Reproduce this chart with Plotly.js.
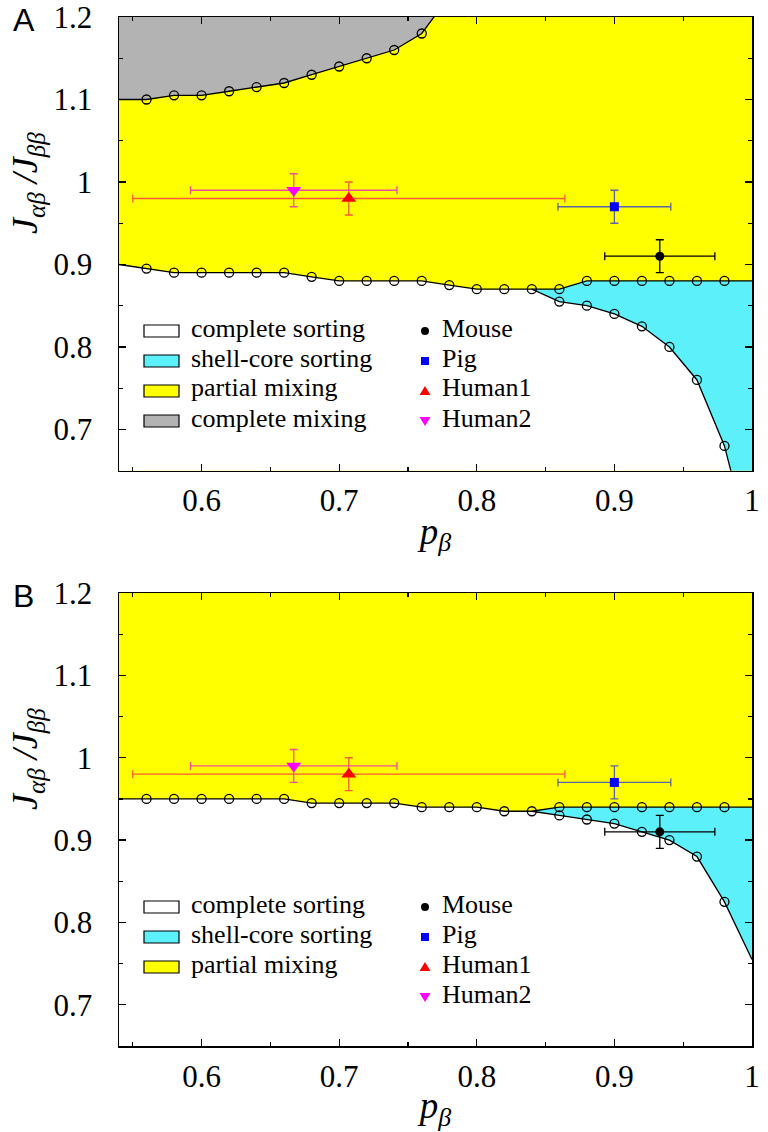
<!DOCTYPE html>
<html><head><meta charset="utf-8">
<script src="https://cdn.plot.ly/plotly-3.0.1.min.js"></script>
<style>html,body{margin:0;padding:0;background:#fff}#chart{width:768px;height:1132px}</style>
</head><body><div id="chart"></div>
<script>
// ================= DATA =================
const X_RANGE = [0.54, 1.0];
const Y_RANGE = [0.65, 1.2];
const pMain   = [0.56,0.58,0.60,0.62,0.64,0.66,0.68,0.70,0.72,0.74,0.76,0.78,0.80,0.82,0.84];
const pBranch = [0.86,0.88,0.90,0.92,0.94,0.96,0.98];
const pMixA   = [0.56,0.58,0.60,0.62,0.64,0.66,0.68,0.70,0.72,0.74,0.76];
// Panel A boundaries
const A_mainJ  = [0.895,0.89,0.89,0.89,0.89,0.89,0.885,0.88,0.88,0.88,0.88,0.875,0.87,0.87,0.87];
const A_upperJ = [0.87,0.88,0.88,0.88,0.88,0.88,0.88];
const A_lowerJ = [0.855,0.85,0.84,0.825,0.80,0.76,0.68];
const A_mixJ   = [1.10,1.105,1.105,1.11,1.115,1.12,1.13,1.14,1.15,1.16,1.18];
const A_mainStartJ = 0.90, A_upperEndJ = 0.88, A_lowerEndJ = 0.55;
const A_mixStartJ = 1.10, A_mixEndP = 0.78, A_mixEndJ = 1.225;
// Panel B boundaries
const B_mainJ  = [0.95,0.95,0.95,0.95,0.95,0.95,0.945,0.945,0.945,0.945,0.94,0.94,0.94,0.935,0.935];
const B_upperJ = [0.94,0.94,0.94,0.94,0.94,0.94,0.94];
const B_lowerJ = [0.93,0.925,0.92,0.91,0.90,0.88,0.825];
const B_mainStartJ = 0.95, B_upperEndJ = 0.94, B_lowerEndJ = 0.755;
// experimental samples
const sampleNames = ['Mouse','Pig','Human1','Human2'];
const sampleP     = [0.933,0.90,0.707,0.667];
const samplePErr  = [0.04,0.041,0.157,0.075];
const sampleJ     = [0.91,0.97,0.98,0.99];
const sampleJErr  = [0.02,0.02,0.02,0.02];
const regionNamesA = ['complete sorting','shell-core sorting','partial mixing','complete mixing'];
const regionNamesB = ['complete sorting','shell-core sorting','partial mixing'];
const xTickVals = [0.6,0.7,0.8,0.9,1.0];
const xTickText = ['0.6','0.7','0.8','0.9','1'];
const xMinorVals = [0.55,0.65,0.75,0.85,0.95];
const yTickVals = [0.7,0.8,0.9,1.0,1.1,1.2];
const yTickText = ['0.7','0.8','0.9','1','1.1','1.2'];
const yMinorVals = [0.65,0.75,0.85,0.95,1.05,1.15];

// ================= STYLE =================
const C_YELLOW = '#ffff00', C_CYAN = '#5cf1fa', C_GREY = '#b3b3b3', C_WHITE = '#ffffff';
const regionColors = [C_WHITE, C_CYAN, C_YELLOW, C_GREY];
const sampleColors = ['#000000','#0000ff','#ff0000','#ff00ff'];
const sampleBarColors = ['#000000','#5866a8','#ff5a3a','#ee4f98'];
const sampleSymbols = ['circle','square','triangle-up','triangle-down'];
const sampleSizes = [9,9,13,13];
const SERIF = 'Liberation Serif';
const SANS = 'Liberation Sans';

const W = 768, H = 1132, ML = 119, MR = 16, MT = 17, MB = 86;
const PW = W - ML - MR, PH = H - MT - MB;
const px2x = px => (px - ML) / PW;
const px2y = py => 1 - (py - MT) / PH;
const PANEL_SHIFT = 576;

// ================= TRACES =================
const traces = [];
function addPanel(xa, ya, mainJ, upperJ, lowerJ, mainStartJ, upperEndJ, lowerEndJ, mix) {
  const x0 = X_RANGE[0], x1 = X_RANGE[1];
  const yLow = Y_RANGE[0] - 0.1, yHigh = Y_RANGE[1] + 0.1;
  const pJ = pMain[pMain.length - 1], jJ = mainJ[mainJ.length - 1];
  traces.push({x:[x0,...pMain,...pBranch,x1,x1,x0], y:[mainStartJ,...mainJ,...lowerJ,lowerEndJ,yLow,yLow],
    xaxis:xa, yaxis:ya, mode:'lines', fill:'toself', fillcolor:C_WHITE, line:{width:0}, hoverinfo:'skip', showlegend:false});
  traces.push({x:[pJ,...pBranch,x1,x1,...pBranch.slice().reverse(),pJ],
    y:[jJ,...upperJ,upperEndJ,lowerEndJ,...lowerJ.slice().reverse(),jJ],
    xaxis:xa, yaxis:ya, mode:'lines', fill:'toself', fillcolor:C_CYAN, line:{width:0}, hoverinfo:'skip', showlegend:false});
  if (mix) {
    traces.push({x:[x0,...pMixA,A_mixEndP,A_mixEndP,x0], y:[A_mixStartJ,...A_mixJ,A_mixEndJ,yHigh,yHigh],
      xaxis:xa, yaxis:ya, mode:'lines', fill:'toself', fillcolor:C_GREY, line:{width:0}, hoverinfo:'skip', showlegend:false});
    traces.push({x:[x0,...pMixA,A_mixEndP], y:[A_mixStartJ,...A_mixJ,A_mixEndJ],
      xaxis:xa, yaxis:ya, mode:'lines', line:{color:'#000',width:1.3}, showlegend:false});
    traces.push({x:pMixA, y:A_mixJ, xaxis:xa, yaxis:ya, mode:'markers',
      marker:{symbol:'circle-open', size:9, color:'#000', line:{width:1.3}}, showlegend:false});
  }
  traces.push({x:[x0,...pMain,...pBranch,x1], y:[mainStartJ,...mainJ,...lowerJ,lowerEndJ],
    xaxis:xa, yaxis:ya, mode:'lines', line:{color:'#000',width:1.3}, showlegend:false});
  traces.push({x:[pJ,...pBranch,x1], y:[jJ,...upperJ,upperEndJ],
    xaxis:xa, yaxis:ya, mode:'lines', line:{color:'#000',width:1.3}, showlegend:false});
  traces.push({x:[...pMain,...pBranch,...pBranch], y:[...mainJ,...upperJ,...lowerJ],
    xaxis:xa, yaxis:ya, mode:'markers',
    marker:{symbol:'circle-open', size:9, color:'#000', line:{width:1.3}}, showlegend:false});
  sampleNames.forEach((nm,i) => {
    traces.push({x:[sampleP[i]], y:[sampleJ[i]], name:nm, xaxis:xa, yaxis:ya, mode:'markers',
      marker:{symbol:sampleSymbols[i], size:sampleSizes[i], color:sampleColors[i], line:{width:0}},
      error_x:{type:'data', array:[samplePErr[i]], color:sampleBarColors[i], thickness:1.3, width:4},
      error_y:{type:'data', array:[sampleJErr[i]], color:sampleBarColors[i], thickness:1.3, width:4},
      showlegend:false});
  });
}
addPanel('x','y', A_mainJ, A_upperJ, A_lowerJ, A_mainStartJ, A_upperEndJ, A_lowerEndJ, true);
addPanel('x2','y2', B_mainJ, B_upperJ, B_lowerJ, B_mainStartJ, B_upperEndJ, B_lowerEndJ, false);

// ================= AXES =================
function xAxis(anchor) {
  return {domain:[0,1], anchor:anchor, range:X_RANGE, tickmode:'array', tickvals:xTickVals, ticktext:xTickText,
    ticks:'inside', ticklen:7, tickwidth:1.2, tickcolor:'#000', mirror:'allticks', showline:true, linecolor:'#000',
    linewidth:1.5, showgrid:false, zeroline:false, tickfont:{family:SERIF, size:31, color:'#000'},
    ticklabelstandoff:2, ticklabeloverflow:'allow',
    minor:{tickmode:'array', tickvals:xMinorVals, ticks:'inside', ticklen:4, tickwidth:1.2, tickcolor:'#000', showgrid:false},
    title:{text:'<i>p</i><sub><i>β</i></sub>', font:{family:SERIF, size:37, color:'#000'}, standoff:0}};
}
function yAxis(anchor, dom) {
  return {domain:dom, anchor:anchor, range:Y_RANGE, tickmode:'array', tickvals:yTickVals, ticktext:yTickText,
    ticks:'inside', ticklen:7, tickwidth:1.2, tickcolor:'#000', mirror:'allticks', showline:true, linecolor:'#000',
    linewidth:1.5, showgrid:false, zeroline:false, tickfont:{family:SERIF, size:31, color:'#000'},
    ticklabelstandoff:19, ticklabeloverflow:'allow',
    minor:{tickmode:'array', tickvals:yMinorVals, ticks:'inside', ticklen:4, tickwidth:1.2, tickcolor:'#000', showgrid:false}};
}

// ================= LEGENDS & LABELS =================
const shapes = [], annotations = [];
const legendRows = [331, 361, 391, 421];
function addLegend(names, shift) {
  names.forEach((nm,i) => {
    const cy = legendRows[i] + shift;
    shapes.push({type:'rect', xref:'paper', yref:'paper', x0:px2x(144), x1:px2x(179), y0:px2y(cy+6), y1:px2y(cy-6),
      fillcolor:regionColors[i], line:{color:'#000', width:1.2}});
    annotations.push({xref:'paper', yref:'paper', x:px2x(189), y:px2y(cy-3), xanchor:'left', yanchor:'middle',
      text:nm, showarrow:false, font:{family:SERIF, size:26, color:'#000'}});
  });
  sampleNames.forEach((nm,i) => {
    const cy = legendRows[i] + shift, cx = 425;
    let s;
    if (i === 0) s = {type:'circle', x0:px2x(cx-4), x1:px2x(cx+4), y0:px2y(cy+4), y1:px2y(cy-4)};
    else if (i === 1) s = {type:'rect', x0:px2x(cx-4), x1:px2x(cx+4), y0:px2y(cy+4), y1:px2y(cy-4)};
    else if (i === 2) s = {type:'path', path:`M${px2x(cx-5.5)},${px2y(cy+4)} L${px2x(cx+5.5)},${px2y(cy+4)} L${px2x(cx)},${px2y(cy-5)} Z`};
    else s = {type:'path', path:`M${px2x(cx-5.5)},${px2y(cy-4)} L${px2x(cx+5.5)},${px2y(cy-4)} L${px2x(cx)},${px2y(cy+5)} Z`};
    Object.assign(s, {xref:'paper', yref:'paper', fillcolor:sampleColors[i], line:{width:0}});
    shapes.push(s);
    annotations.push({xref:'paper', yref:'paper', x:px2x(440), y:px2y(cy-3), xanchor:'left', yanchor:'middle',
      text:nm, showarrow:false, font:{family:SERIF, size:26, color:'#000'}});
  });
}
addLegend(regionNamesA, 0);
addLegend(regionNamesB, PANEL_SHIFT);

const yTitle = '<i>J</i><sub><i>αβ</i></sub> <i>/J</i><sub><i>ββ</i></sub>';
[0, PANEL_SHIFT].forEach((sh, k) => {
  annotations.push({xref:'paper', yref:'paper', x:px2x(27), y:px2y(183+sh), xanchor:'center', yanchor:'middle',
    textangle:-90, text:yTitle, showarrow:false, font:{family:SERIF, size:36, color:'#000'}});
  annotations.push({xref:'paper', yref:'paper', x:px2x(24), y:px2y(20+sh), xanchor:'center', yanchor:'middle',
    text:k === 0 ? 'A' : 'B', showarrow:false, font:{family:SANS, size:32, color:'#000'}});
});

const layout = {
  width:W, height:H, margin:{l:ML, r:MR, t:MT, b:MB}, paper_bgcolor:'#fff', plot_bgcolor:C_YELLOW,
  showlegend:false, font:{family:SERIF, color:'#000'},
  xaxis:xAxis('y'), yaxis:yAxis('x', [px2y(470.7), 1]),
  xaxis2:xAxis('y2'), yaxis2:yAxis('x2', [0, px2y(593)]),
  shapes:shapes, annotations:annotations
};
Plotly.newPlot('chart', traces, layout, {displayModeBar:false, staticPlot:true});
</script></body></html>
